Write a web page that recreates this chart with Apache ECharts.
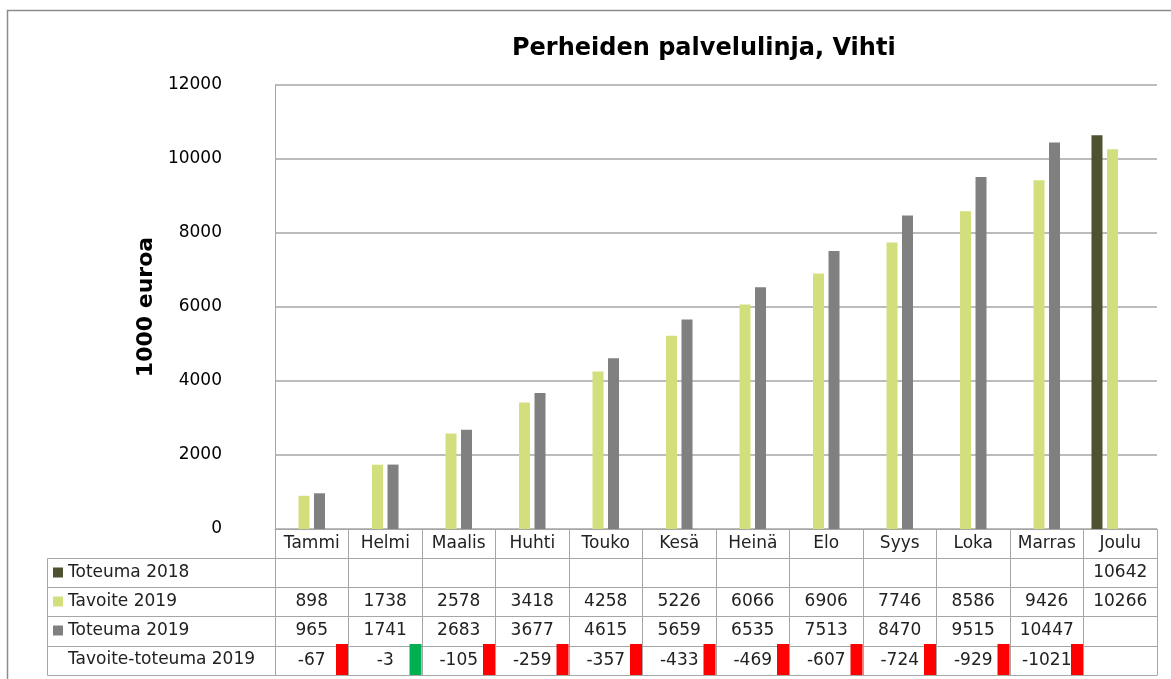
<!DOCTYPE html>
<html>
<head>
<meta charset="utf-8">
<script src="https://cdn.jsdelivr.net/npm/echarts@6/dist/echarts.min.js"></script>
<style>
  html, body { margin: 0; padding: 0; background: #fff; }
  #chart { width: 1171px; height: 679px; }
</style>
</head>
<body>
<div id="chart"></div>
<script>
    // kuukaudet
    var months = ['Tammi', 'Helmi', 'Maalis', 'Huhti', 'Touko', 'Kesä', 'Heinä', 'Elo', 'Syys', 'Loka', 'Marras', 'Joulu'];
    // 1000 euroa
    var toteuma2018 = [null, null, null, null, null, null, null, null, null, null, null, 10642];
    var tavoite2019 = [898, 1738, 2578, 3418, 4258, 5226, 6066, 6906, 7746, 8586, 9426, 10266];
    var toteuma2019 = [965, 1741, 2683, 3677, 4615, 5659, 6535, 7513, 8470, 9515, 10447, null];
    var erotus2019 = [-67, -3, -105, -259, -357, -433, -469, -607, -724, -929, -1021, null];
    var yTicks = [0, 2000, 4000, 6000, 8000, 10000, 12000];
    var okLimit = -50; // vihreä merkki jos erotus on tätä pienempi

    var font = 'DejaVu Sans';
    var lineColor = '#a6a6a6';
    var rowH = 29;

    var chart = echarts.init(document.getElementById('chart'));

    // taulukon rivit x-akseleina samassa gridissä
    function rowAxis(offset, values) {
        return {
            type: 'category',
            data: months,
            position: 'bottom',
            offset: offset,
            axisLine: { show: true, lineStyle: { color: lineColor, width: 1 } },
            axisTick: { show: false },
            splitLine: { show: false },
            axisLabel: {
                show: values !== null,
                interval: 0,
                margin: 0,
                fontFamily: font,
                fontSize: 17,
                color: '#222',
                lineHeight: rowH,
                formatter: function (v, i) {
                    var x = values ? values[i] : null;
                    return x === null || x === undefined ? '' : String(x);
                }
            }
        };
    }

    var option = {
        animation: false,
        backgroundColor: '#fff',
        title: {
            text: 'Perheiden palvelulinja, Vihti',
            left: 512,
            top: 37,
            padding: 0,
            textStyle: { fontFamily: font, fontSize: 24, fontWeight: 'bold', color: '#000' }
        },
        legend: {
            orient: 'vertical',
            left: 53,
            top: 558,
            padding: 0,
            itemGap: 0,
            itemWidth: 10,
            itemHeight: 10,
            icon: 'rect',
            selectedMode: false,
            data: ['Toteuma 2018', 'Tavoite 2019', 'Toteuma 2019', 'Tavoite-toteuma 2019'],
            textStyle: { fontFamily: font, fontSize: 17, color: '#222', lineHeight: rowH }
        },
        grid: { left: 275, right: 14, top: 85, bottom: 150 },
        xAxis: [
            {
                type: 'category',
                data: months,
                position: 'bottom',
                axisLine: { show: true, lineStyle: { color: lineColor, width: 1 } },
                axisTick: { show: true, length: 146, lineStyle: { color: lineColor, width: 1 } },
                axisLabel: {
                    interval: 0, margin: 0, fontFamily: font, fontSize: 17,
                    color: '#222', lineHeight: rowH
                }
            },
            rowAxis(29, toteuma2018),
            rowAxis(58, tavoite2019),
            rowAxis(87, toteuma2019),
            rowAxis(117, erotus2019),
            rowAxis(146, null)
        ],
        yAxis: {
            type: 'value',
            min: yTicks[0],
            max: yTicks[yTicks.length - 1],
            interval: 2000,
            name: '1000 euroa',
            nameLocation: 'middle',
            nameRotate: 90,
            nameGap: 116,
            nameTextStyle: { fontFamily: font, fontSize: 22, fontWeight: 'bold', color: '#000' },
            axisLine: { show: true, lineStyle: { color: lineColor } },
            axisTick: { show: false },
            splitLine: { lineStyle: { color: lineColor, width: 1.5 } },
            axisLabel: {
                margin: 53, fontFamily: font, fontSize: 17, color: '#000',
                formatter: function (v) { return String(v); }
            }
        },
        series: [
            {
                name: 'Toteuma 2018', type: 'bar', data: toteuma2018,
                barWidth: 11, barGap: '41%',
                itemStyle: { color: '#4f5230' }
            },
            {
                name: 'Tavoite 2019', type: 'bar', data: tavoite2019,
                barWidth: 11, barGap: '41%',
                itemStyle: { color: '#d3df7d' }
            },
            {
                name: 'Toteuma 2019', type: 'bar', data: toteuma2019,
                barWidth: 11, barGap: '41%',
                itemStyle: { color: '#808080' }
            },
            {
                // negatiiviset arvot jäävät akselin alle piiloon
                name: 'Tavoite-toteuma 2019', type: 'bar', data: erotus2019,
                barWidth: 11, barGap: '41%', clip: true,
                itemStyle: { color: 'rgba(0,0,0,0)' }
            },
            {
                // merkit erotus-rivin solujen oikeaan reunaan
                name: 'merkki', type: 'custom', silent: true,
                data: erotus2019.map(function (v, i) { return [i, v]; }),
                renderItem: function (params, api) {
                    var v = api.value(1);
                    if (isNaN(v)) return;
                    var cs = params.coordSys;
                    var cx = api.coord([api.value(0), 0])[0];
                    var w = api.size([1, 0])[0];
                    var right = cx + w / 2;
                    var base = cs.y + cs.height;
                    return {
                        type: 'rect',
                        shape: { x: right - 12.5, y: base + 115, width: 12, height: 31 },
                        style: { fill: v > okLimit ? '#00b050' : '#ff0000' }
                    };
                }
            }
        ],
        graphic: [
            {
                type: 'rect', silent: true,
                shape: { x: 7.5, y: 10.5, width: 1200, height: 700 },
                style: { fill: 'none', stroke: '#8c8c8c', lineWidth: 1.5 }
            },
            {
                type: 'rect', silent: true,
                shape: { x: 47.5, y: 558.5, width: 228, height: 117 },
                style: { fill: 'none', stroke: lineColor, lineWidth: 1 }
            },
            { type: 'line', silent: true, shape: { x1: 47, y1: 587.5, x2: 275, y2: 587.5 }, style: { stroke: lineColor } },
            { type: 'line', silent: true, shape: { x1: 47, y1: 616.5, x2: 275, y2: 616.5 }, style: { stroke: lineColor } },
            { type: 'line', silent: true, shape: { x1: 47, y1: 646.5, x2: 275, y2: 646.5 }, style: { stroke: lineColor } }
        ]
    };

    chart.setOption(option);
</script>
</body>
</html>
